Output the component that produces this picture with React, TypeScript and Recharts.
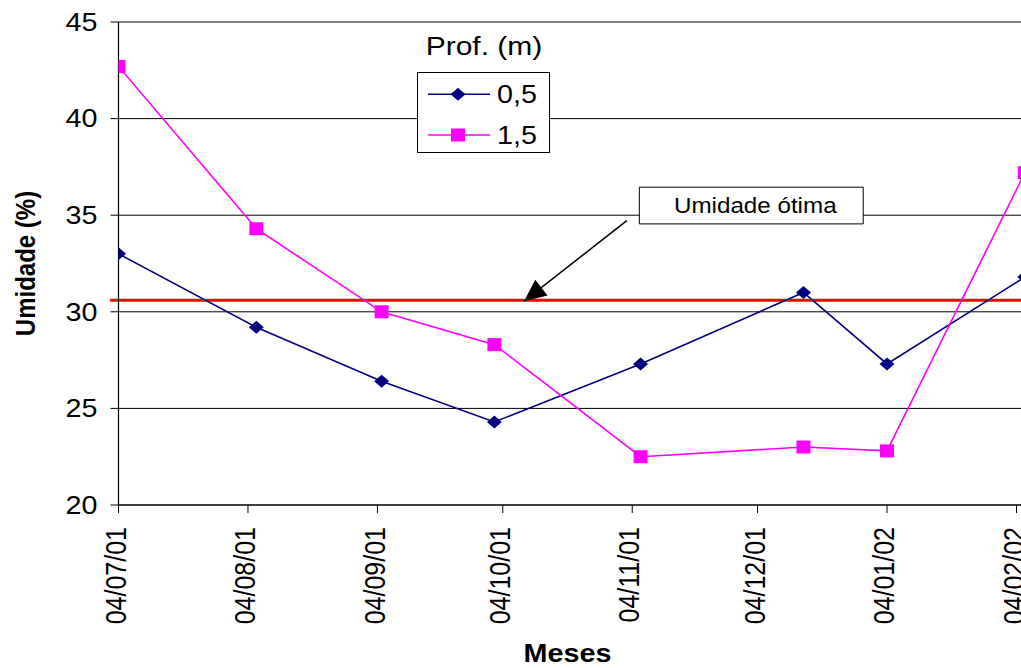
import React from 'react';
import {
  LineChart,
  Line,
  XAxis,
  YAxis,
  CartesianGrid,
  ReferenceLine,
  ReferenceArea,
  ReferenceDot,
  Legend,
  Label,
} from 'recharts';

// sampling dates (dd/mm/yy on the axis), values in %
const START = '2001-07-04';
const tickDates = ['2001-07-04', '2001-08-04', '2001-09-04', '2001-10-04', '2001-11-04', '2001-12-04', '2002-01-04', '2002-02-04'];
const sampleDates = ['2001-07-04', '2001-08-06', '2001-09-05', '2001-10-02', '2001-11-06', '2001-12-15', '2002-01-04', '2002-02-06'];
const prof05 = [33.0, 29.2, 26.4, 24.3, 27.3, 31.0, 27.3, 31.8];
const prof15 = [42.7, 34.3, 30.0, 28.3, 22.5, 23.0, 22.8, 37.2];
const yTicks = [20, 25, 30, 35, 40, 45];
const umidadeOtima = 30.6;

const dayOf = (iso: string) => (Date.parse(iso) - Date.parse(START)) / 86400000;
const fmtDate = (iso: string) => {
  const [y, m, d] = iso.split('-');
  return `${d}/${m}/${y.slice(2)}`;
};

const data = sampleDates.map((d, i) => ({ day: dayOf(d), p05: prof05[i], p15: prof15[i] }));
const xTicks = tickDates.map(dayOf);
const tickLabel: Record<number, string> = {};
tickDates.forEach((d) => (tickLabel[dayOf(d)] = fmtDate(d)));

// layout
const PLOT_LEFT = 118.5;
const PLOT_TOP = 22;
const PLOT_BOTTOM = 505;
const CHART_H = 668;
const PX_PER_DAY = 4.1767;
const X_MAX = 230;
const PLOT_W = X_MAX * PX_PER_DAY;
const CHART_W = Math.ceil(PLOT_LEFT + PLOT_W + 10);
const PX_PER_UNIT = (PLOT_BOTTOM - PLOT_TOP) / 25;
const SX = 1.15; // text in the original is a bit wide
const FONT = '"Liberation Sans", Arial, sans-serif';

const NAVY = '#000080';
const MAGENTA = '#FF00FF';

// annotation "Umidade ótima" (data coordinates)
const noteBox = { x1: 124.7, x2: 178.3, y1: 34.55, y2: 36.45 };
const noteFrom = { x: 121.7, y: 34.72 };
const noteTip = { x: 97.1, y: 30.55 };

const Diamond = ({ cx, cy }: { cx: number; cy: number }) => (
  <path d={`M${cx},${cy - 6.5} L${cx + 7.5},${cy} L${cx},${cy + 6.5} L${cx - 7.5},${cy} Z`} fill={NAVY} />
);
const Square = ({ cx, cy }: { cx: number; cy: number }) => (
  <rect x={cx - 7} y={cy - 6.5} width={14} height={13} fill={MAGENTA} />
);

const YTick = ({ x, y, payload }: any) => (
  <g transform={`translate(${x},${y}) scale(${SX},1)`}>
    <text textAnchor="end" dy="0.35em" fontSize={25} fontFamily={FONT} fill="#000">
      {payload.value}
    </text>
  </g>
);

const XTick = ({ x, y, payload }: any) => (
  <g transform={`translate(${x},${y}) scale(${SX},1) rotate(-90)`}>
    <text textAnchor="end" dy="0.25em" fontSize={25} fontFamily={FONT} fill="#000">
      {tickLabel[payload.value]}
    </text>
  </g>
);

const renderLegend = () => (
  <svg width={170} height={140} style={{ display: 'block' }}>
    <g transform={`translate(84,35) scale(1.2,1)`}>
      <text textAnchor="middle" fontSize={25} fontFamily={FONT} fill="#000">Prof. (m)</text>
    </g>
    <rect x={17.5} y={52.5} width={132} height={80} fill="#fff" stroke="#000" strokeWidth={1} />
    <line x1={28} x2={90} y1={74.3} y2={74.3} stroke={NAVY} strokeWidth={1.6} />
    <Diamond cx={58} cy={74.3} />
    <g transform={`translate(97,83.3) scale(${SX},1)`}>
      <text fontSize={25} fontFamily={FONT} fill="#000">0,5</text>
    </g>
    <line x1={28} x2={90} y1={115} y2={115} stroke={MAGENTA} strokeWidth={1.6} />
    <Square cx={58} cy={115} />
    <g transform={`translate(97,124) scale(${SX},1)`}>
      <text fontSize={25} fontFamily={FONT} fill="#000">1,5</text>
    </g>
  </svg>
);

const renderNote = (props: any) => {
  const vb = props.viewBox;
  return (
    <g transform={`translate(${vb.x + vb.width / 2 + 4},${vb.y + vb.height / 2}) scale(1.1,1)`}>
      <text textAnchor="middle" dy="0.35em" fontSize={22} fontFamily={FONT} fill="#000">
        Umidade ótima
      </text>
    </g>
  );
};

const renderArrowHead = (props: any) => {
  const { cx, cy } = props;
  const dx = (noteTip.x - noteFrom.x) * PX_PER_DAY;
  const dy = -(noteTip.y - noteFrom.y) * PX_PER_UNIT;
  const len = Math.hypot(dx, dy);
  const ux = dx / len;
  const uy = dy / len;
  const L = 22;
  const W = 10;
  const bx = cx - ux * L;
  const by = cy - uy * L;
  return (
    <polygon
      points={`${cx},${cy} ${bx - uy * W},${by + ux * W} ${bx + uy * W},${by - ux * W}`}
      fill="#000"
    />
  );
};

const renderYTitle = (props: any) => {
  const vb = props.viewBox;
  return (
    <g transform={`translate(${vb.x + 25},${vb.y + vb.height / 2}) scale(${SX},1) rotate(-90)`}>
      <text textAnchor="middle" dy="0.35em" fontSize={24} fontWeight="bold" fontFamily={FONT} fill="#000">
        Umidade (%)
      </text>
    </g>
  );
};

const renderXTitle = (props: any) => {
  const vb = props.viewBox;
  const mid = vb.x + (xTicks[xTicks.length - 1] * PX_PER_DAY) / 2;
  return (
    <g transform={`translate(${mid},${vb.y + 157}) scale(${SX},1)`}>
      <text textAnchor="middle" fontSize={25} fontWeight="bold" fontFamily={FONT} fill="#000">
        Meses
      </text>
    </g>
  );
};

export default function App() {
  return (
    <div
      style={{
        position: 'absolute',
        left: 0,
        top: 0,
        width: 1021,
        height: CHART_H,
        overflow: 'hidden',
        background: '#fff',
      }}
    >
      <LineChart
        width={CHART_W}
        height={CHART_H}
        data={data}
        margin={{ top: PLOT_TOP, right: CHART_W - PLOT_LEFT - PLOT_W, bottom: 0, left: 0 }}
      >
        <CartesianGrid vertical={false} stroke="#000" strokeWidth={1} />
        <XAxis
          dataKey="day"
          type="number"
          domain={[0, X_MAX]}
          ticks={xTicks}
          interval={0}
          allowDataOverflow
          height={CHART_H - PLOT_BOTTOM}
          tickSize={8}
          tickMargin={14}
          tick={<XTick />}
          axisLine={{ stroke: '#000', strokeWidth: 1.2 }}
          tickLine={{ stroke: '#000' }}
        >
          <Label content={renderXTitle} />
        </XAxis>
        <YAxis
          type="number"
          domain={[20, 45]}
          ticks={yTicks}
          interval={0}
          width={PLOT_LEFT}
          tickSize={8}
          tickMargin={13}
          tick={<YTick />}
          axisLine={{ stroke: '#000', strokeWidth: 1.2 }}
          tickLine={{ stroke: '#000' }}
        >
          <Label content={renderYTitle} />
        </YAxis>
        <ReferenceLine
          segment={[
            { x: -2, y: umidadeOtima },
            { x: X_MAX, y: umidadeOtima },
          ]}
          stroke="#FF0000"
          strokeWidth={3}
          ifOverflow="visible"
        />
        <ReferenceArea
          x1={noteBox.x1}
          x2={noteBox.x2}
          y1={noteBox.y1}
          y2={noteBox.y2}
          fill="#fff"
          fillOpacity={1}
          stroke="#000"
          strokeWidth={1}
          label={renderNote}
        />
        <ReferenceLine
          segment={[noteFrom, noteTip]}
          stroke="#000"
          strokeWidth={1.5}
          ifOverflow="visible"
        />
        <ReferenceDot x={noteTip.x} y={noteTip.y} ifOverflow="visible" shape={renderArrowHead} />
        <Line
          type="linear"
          dataKey="p05"
          stroke={NAVY}
          strokeWidth={1.6}
          dot={(p: any) => <Diamond key={`d05-${p.index}`} cx={p.cx} cy={p.cy} />}
          activeDot={false}
          isAnimationActive={false}
        />
        <Line
          type="linear"
          dataKey="p15"
          stroke={MAGENTA}
          strokeWidth={1.6}
          dot={(p: any) => <Square key={`d15-${p.index}`} cx={p.cx} cy={p.cy} />}
          activeDot={false}
          isAnimationActive={false}
        />
        <Legend
          layout="vertical"
          align="center"
          verticalAlign="middle"
          content={renderLegend}
          wrapperStyle={{ position: 'absolute', left: 400, top: 20, width: 170, height: 140 }}
        />
      </LineChart>
    </div>
  );
}
